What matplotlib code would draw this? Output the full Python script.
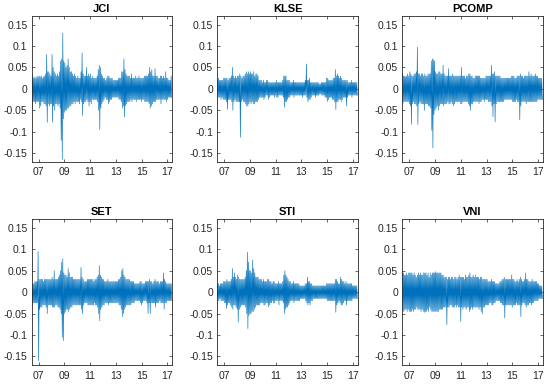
import numpy as np
import matplotlib
matplotlib.use("Agg")
import matplotlib.pyplot as plt
from matplotlib.ticker import FixedLocator, FixedFormatter

# monthly extremes of daily returns (in percent)
# months run from Jun 2006 to Apr 2017
START = 2006.46

jci_hi = [4.0, 3.0, 2.5, 2.8, 2.5, 3.0, 2.8,
          3.0, 2.8, 3.0, 2.5, 2.8, 3.0, 3.5, 8.0, 4.0, 4.0, 3.5, 3.0,
          8.0, 5.0, 4.0, 3.5, 3.0, 3.5, 3.0, 4.0, 6.5, 7.0, 13.0, 6.5,
          6.0, 5.0, 5.5, 7.0, 5.0, 4.0, 4.0, 3.5, 3.0, 3.5, 3.0, 2.5,
          3.0, 2.5, 2.5, 4.0, 8.4, 3.5, 3.0, 3.0, 5.0, 3.0, 3.5, 3.0,
          3.5, 2.5, 3.0, 2.5, 2.5, 2.5, 3.0, 4.5, 5.5, 5.0, 3.5, 3.0,
          2.5, 2.5, 2.0, 2.5, 3.0, 3.0, 2.5, 2.5, 2.5, 2.0, 2.0, 2.0,
          2.0, 2.0, 2.5, 2.5, 2.5, 4.0, 4.0, 7.0, 4.5, 3.5, 3.0, 3.0,
          3.0, 2.5, 3.5, 2.5, 2.5, 2.5, 3.0, 2.5, 2.5, 3.0, 2.5, 2.5,
          2.5, 2.5, 3.0, 3.0, 3.0, 3.0, 3.5, 5.0, 4.0, 4.5, 3.0, 3.0,
          4.7, 3.0, 3.0, 2.5, 2.5, 3.0, 3.0, 2.5, 3.0, 2.5, 4.0, 2.5,
          2.5, 2.0, 2.0, 3.0]
jci_lo = [-4.5, -3.0, -3.0, -3.5, -3.0, -3.0, -3.0,
          -4.5, -4.0, -3.0, -3.0, -3.5, -3.5, -4.0, -7.8, -3.5, -4.0, -3.5, -3.5,
          -7.8, -4.0, -5.0, -3.5, -3.5, -4.0, -3.5, -4.5, -12.0, -16.5, -7.0, -5.5,
          -5.0, -5.0, -4.5, -4.5, -4.0, -4.0, -3.5, -3.5, -3.0, -3.5, -3.0, -3.0,
          -3.0, -3.5, -2.5, -3.0, -6.2, -3.5, -3.0, -3.0, -2.5, -3.0, -4.0, -3.0,
          -3.5, -2.5, -2.5, -2.5, -2.5, -2.5, -3.0, -5.0, -9.5, -4.5, -3.5, -3.0,
          -2.5, -2.0, -2.5, -2.5, -3.5, -3.0, -2.5, -2.5, -2.0, -2.0, -2.0, -2.0,
          -2.0, -2.0, -2.5, -2.5, -3.0, -4.5, -4.0, -6.6, -4.0, -3.5, -3.0, -3.0,
          -3.0, -2.5, -3.0, -2.5, -2.5, -2.5, -3.0, -2.5, -2.5, -2.5, -2.5, -3.0,
          -2.5, -2.5, -3.0, -3.0, -3.0, -3.0, -3.5, -4.5, -4.0, -3.5, -3.0, -3.0,
          -3.0, -2.5, -2.5, -2.5, -2.5, -3.5, -2.5, -2.5, -2.5, -2.5, -3.0, -2.5,
          -2.0, -2.0, -2.0, -2.0]

klse_hi = [2.0, 2.5, 2.0, 2.0, 2.0, 2.0, 2.5,
           2.5, 2.5, 2.5, 2.0, 2.5, 2.5, 3.0, 5.0, 3.0, 2.5, 3.0, 2.5,
           3.0, 3.0, 3.5, 3.0, 2.5, 3.0, 3.0, 3.5, 4.0, 3.5, 4.0, 3.5,
           4.0, 3.5, 3.5, 4.0, 3.0, 3.5, 3.5, 3.0, 2.0, 2.0, 2.0, 1.5,
           2.0, 1.5, 1.5, 2.0, 2.0, 1.5, 1.5, 1.5, 1.5, 1.5, 1.5, 1.5,
           2.0, 1.5, 1.5, 1.5, 1.5, 1.5, 2.0, 3.0, 3.0, 3.0, 2.0, 2.0,
           2.0, 1.5, 1.5, 1.5, 2.0, 1.5, 1.5, 1.5, 1.5, 1.5, 1.5, 1.5,
           1.5, 1.5, 1.5, 2.0, 5.8, 2.0, 2.0, 2.5, 1.5, 1.5, 1.5, 1.5,
           1.5, 1.5, 1.5, 1.5, 1.2, 1.2, 1.5, 1.5, 1.5, 1.5, 1.5, 2.5,
           2.5, 2.0, 2.0, 2.0, 2.0, 2.5, 2.5, 4.5, 3.0, 3.5, 3.0, 2.5,
           3.0, 2.5, 2.0, 2.0, 2.0, 2.0, 2.0, 1.5, 1.5, 1.5, 2.0, 1.5,
           1.5, 1.5, 1.5, 1.5]
klse_lo = [-2.0, -2.0, -2.0, -2.5, -2.0, -2.5, -2.5,
           -2.5, -3.0, -4.8, -2.5, -2.5, -2.5, -3.0, -5.0, -3.0, -2.5, -3.0, -3.0,
           -3.0, -3.0, -11.3, -3.0, -2.5, -3.0, -3.0, -3.5, -4.0, -4.0, -3.5, -3.0,
           -3.5, -3.0, -3.5, -3.5, -3.0, -3.0, -3.0, -2.5, -2.0, -2.0, -2.0, -2.0,
           -2.5, -2.0, -1.5, -1.5, -2.5, -2.0, -1.5, -1.5, -1.5, -1.5, -2.0, -1.5,
           -2.0, -2.0, -1.5, -1.5, -1.5, -1.5, -2.0, -4.3, -3.0, -3.0, -2.5, -2.0,
           -2.0, -1.5, -1.5, -1.5, -2.0, -1.5, -1.5, -1.5, -1.5, -1.5, -1.5, -1.5,
           -2.0, -1.5, -1.5, -1.5, -2.0, -3.0, -2.5, -2.5, -2.0, -1.5, -1.5, -1.5,
           -2.0, -1.5, -1.5, -1.5, -1.2, -1.2, -1.5, -1.5, -1.5, -2.0, -2.0, -3.0,
           -2.5, -2.0, -2.0, -2.0, -2.5, -2.5, -3.0, -4.8, -3.0, -3.0, -2.5, -2.5,
           -3.0, -2.5, -2.0, -2.0, -2.0, -4.0, -2.0, -1.5, -1.5, -1.5, -2.0, -1.5,
           -1.5, -1.5, -1.5, -1.5]

pcomp_hi = [3.7, 3.0, 3.0, 2.8, 3.0, 3.5, 3.0,
            4.0, 3.5, 3.0, 3.0, 3.5, 3.5, 4.0, 9.7, 3.5, 3.5, 3.0, 3.5,
            3.5, 3.0, 3.5, 3.0, 3.0, 3.5, 3.5, 3.5, 6.5, 7.0, 6.8, 6.5,
            4.0, 3.5, 3.5, 4.0, 4.0, 3.5, 3.5, 5.5, 3.5, 3.0, 3.0, 3.0,
            4.7, 3.0, 3.0, 3.0, 3.5, 3.0, 3.0, 3.0, 3.0, 3.0, 3.0, 3.0,
            5.0, 3.0, 3.0, 3.0, 2.5, 3.0, 3.0, 3.5, 3.5, 3.0, 3.0, 2.5,
            2.5, 3.0, 3.0, 3.0, 3.0, 3.0, 2.5, 2.5, 2.5, 2.5, 2.5, 3.0,
            3.0, 3.0, 3.0, 3.0, 5.5, 3.5, 3.5, 4.0, 3.0, 3.0, 3.0, 3.0,
            3.0, 2.5, 2.5, 2.5, 2.5, 2.5, 2.5, 2.5, 2.5, 2.5, 2.5, 3.0,
            3.0, 3.0, 2.5, 2.5, 3.0, 3.0, 3.0, 3.5, 3.0, 3.0, 2.5, 3.0,
            3.0, 3.0, 3.0, 4.0, 3.0, 3.5, 3.0, 3.0, 3.0, 3.5, 3.0, 3.0,
            2.5, 2.5, 2.5, 2.5]
pcomp_lo = [-3.5, -3.0, -3.0, -3.0, -3.0, -3.0, -3.5,
            -4.0, -8.3, -3.5, -3.0, -3.5, -3.5, -4.0, -8.3, -3.5, -3.0, -3.5, -3.5,
            -3.5, -5.0, -3.5, -3.5, -3.5, -4.0, -4.0, -4.5, -9.7, -13.8, -6.0, -5.0,
            -4.5, -4.0, -5.0, -4.0, -3.5, -3.5, -3.5, -4.0, -3.5, -3.5, -3.5, -3.0,
            -3.5, -3.5, -3.0, -3.5, -4.0, -3.5, -3.0, -3.0, -3.0, -3.0, -3.0, -3.5,
            -3.5, -3.0, -3.0, -3.0, -3.0, -3.0, -3.5, -4.0, -5.0, -3.5, -3.5, -3.0,
            -3.0, -3.0, -3.0, -3.0, -3.5, -3.0, -3.0, -2.5, -2.5, -3.0, -2.5, -2.5,
            -2.5, -3.0, -3.0, -3.0, -4.0, -6.5, -3.5, -7.7, -3.5, -3.0, -3.0, -3.0,
            -3.0, -3.0, -3.0, -3.0, -2.5, -2.5, -2.5, -2.5, -2.5, -2.5, -2.5, -3.0,
            -3.0, -3.0, -3.0, -2.5, -3.0, -3.0, -7.2, -4.0, -3.0, -3.0, -3.0, -3.0,
            -3.5, -3.0, -3.0, -3.0, -3.0, -3.0, -3.0, -3.0, -3.0, -3.0, -3.0, -2.5,
            -2.5, -2.5, -2.5, -2.5]

set_hi = [2.5, 2.0, 2.0, 2.5, 2.5, 2.5, 9.5,
          3.0, 3.0, 3.0, 3.0, 2.5, 3.0, 3.0, 3.0, 3.0, 3.0, 3.0, 3.0,
          3.5, 3.0, 5.0, 3.0, 3.0, 3.0, 3.5, 4.0, 5.0, 7.0, 7.8, 4.5,
          4.0, 4.0, 3.5, 5.5, 4.5, 3.5, 3.5, 3.5, 3.0, 3.0, 3.0, 3.0,
          3.0, 3.0, 3.0, 5.8, 3.5, 3.0, 2.5, 2.5, 2.5, 3.0, 3.0, 3.0,
          3.0, 3.0, 3.0, 2.5, 3.0, 3.0, 3.5, 4.0, 6.2, 4.0, 3.5, 3.0,
          3.0, 2.5, 2.5, 2.5, 3.0, 2.5, 2.5, 2.5, 2.5, 2.5, 2.5, 2.5,
          2.5, 2.5, 3.0, 3.0, 3.5, 5.0, 5.5, 4.0, 3.5, 3.0, 3.0, 3.0,
          3.0, 2.5, 2.5, 2.5, 2.5, 2.0, 2.0, 2.0, 2.0, 2.0, 2.5, 2.5,
          2.0, 2.0, 2.0, 2.5, 2.5, 2.5, 2.5, 3.0, 2.5, 2.5, 2.0, 2.5,
          3.0, 2.5, 2.5, 2.5, 2.0, 2.5, 2.5, 2.5, 4.5, 3.0, 2.5, 2.0,
          2.0, 2.0, 2.0, 2.0]
set_lo = [-3.0, -2.5, -2.5, -2.5, -2.5, -2.5, -16.0,
          -4.0, -3.5, -3.5, -3.0, -3.0, -3.0, -3.5, -5.0, -3.0, -3.0, -3.0, -3.0,
          -3.5, -3.5, -3.5, -3.0, -3.0, -3.5, -3.5, -4.0, -5.0, -10.5, -11.3, -5.0,
          -4.5, -4.0, -4.0, -4.5, -4.0, -3.5, -3.5, -3.0, -3.0, -3.0, -3.0, -3.0,
          -3.0, -3.0, -3.0, -4.0, -5.0, -3.0, -2.5, -2.5, -2.5, -3.0, -3.0, -3.0,
          -3.0, -3.0, -3.0, -2.5, -3.0, -3.0, -3.5, -5.0, -6.7, -4.0, -3.5, -3.0,
          -3.0, -2.5, -2.5, -2.5, -3.0, -2.5, -2.5, -2.5, -2.5, -2.5, -2.5, -2.5,
          -2.5, -2.5, -3.0, -3.0, -4.0, -5.7, -5.0, -4.0, -3.5, -3.0, -3.0, -3.0,
          -3.0, -3.0, -2.5, -2.5, -2.5, -2.0, -2.0, -2.0, -2.0, -2.0, -2.5, -3.0,
          -2.5, -2.0, -2.0, -2.0, -2.5, -5.0, -2.5, -5.0, -2.5, -2.5, -2.5, -2.5,
          -3.5, -2.5, -2.5, -2.5, -2.0, -2.5, -2.5, -2.5, -4.0, -2.5, -2.5, -2.0,
          -2.0, -2.0, -2.0, -2.0]

sti_hi = [2.0, 2.0, 1.5, 2.0, 2.0, 2.0, 2.5,
          2.5, 2.5, 3.0, 2.5, 2.5, 2.5, 3.0, 5.5, 3.5, 4.5, 3.5, 3.0,
          4.0, 3.5, 3.0, 3.0, 3.0, 3.0, 3.0, 3.5, 5.0, 9.3, 7.0, 5.0,
          5.0, 4.5, 7.5, 5.5, 4.5, 3.5, 3.5, 3.5, 3.0, 3.0, 3.0, 2.5,
          3.0, 2.5, 2.5, 2.5, 3.0, 3.0, 2.5, 2.5, 2.0, 2.5, 2.5, 2.0,
          2.0, 2.0, 2.5, 2.0, 2.0, 2.0, 2.5, 4.0, 5.0, 4.0, 3.5, 3.0,
          2.5, 2.5, 2.0, 2.0, 2.5, 2.0, 2.0, 2.0, 2.0, 2.0, 1.5, 1.5,
          1.5, 1.5, 1.5, 2.0, 2.0, 3.5, 2.5, 2.5, 2.0, 2.0, 1.5, 1.5,
          1.5, 1.5, 1.5, 1.5, 1.5, 1.5, 1.5, 1.5, 1.5, 1.5, 1.5, 2.0,
          2.0, 2.0, 2.0, 2.0, 2.0, 2.0, 2.0, 3.0, 3.0, 2.5, 2.0, 2.0,
          3.5, 3.0, 2.5, 2.5, 2.0, 2.5, 2.0, 2.0, 2.0, 2.0, 2.0, 1.5,
          1.5, 1.5, 1.5, 1.5]
sti_lo = [-2.0, -2.0, -1.5, -2.0, -2.0, -2.0, -2.5,
          -2.5, -3.8, -3.0, -2.5, -2.5, -3.0, -3.5, -4.0, -3.0, -3.0, -3.5, -4.0,
          -7.0, -4.0, -3.5, -3.0, -3.0, -3.0, -3.0, -3.5, -5.0, -8.5, -5.5, -5.0,
          -5.0, -4.5, -4.5, -4.0, -3.5, -3.0, -3.0, -3.0, -3.0, -2.5, -2.5, -2.5,
          -3.0, -3.0, -2.5, -2.5, -3.5, -3.0, -2.5, -2.5, -2.0, -2.5, -2.5, -2.0,
          -2.0, -2.0, -3.0, -2.0, -2.0, -2.0, -2.5, -5.0, -4.0, -3.5, -3.5, -3.0,
          -2.5, -2.0, -2.0, -2.0, -2.5, -2.0, -2.0, -2.0, -2.0, -2.0, -1.5, -1.5,
          -1.5, -1.5, -1.5, -2.0, -2.5, -3.0, -2.5, -3.0, -2.0, -2.0, -1.5, -1.5,
          -1.5, -1.5, -1.5, -1.5, -1.5, -1.5, -1.5, -1.5, -1.5, -1.5, -1.5, -2.0,
          -2.0, -2.0, -2.0, -2.0, -2.0, -2.0, -2.0, -4.7, -3.0, -2.5, -2.0, -2.5,
          -3.0, -3.0, -2.5, -2.0, -2.0, -3.0, -2.0, -2.0, -2.0, -2.0, -2.0, -1.5,
          -1.5, -1.5, -1.5, -1.5]

vni_hi = [4.5, 4.5, 4.0, 4.0, 4.5, 4.0, 4.5,
          4.5, 4.5, 4.5, 4.0, 4.5, 4.0, 3.5, 4.0, 4.5, 4.0, 4.5, 4.0,
          4.0, 4.5, 4.5, 4.5, 4.0, 4.5, 3.5, 4.5, 4.0, 4.5, 4.5, 4.5,
          4.8, 4.5, 4.5, 4.5, 4.5, 4.5, 4.0, 4.0, 3.5, 3.5, 3.5, 3.0,
          3.5, 3.5, 3.0, 3.5, 3.5, 3.0, 3.5, 3.5, 3.0, 3.5, 4.0, 3.5,
          3.5, 3.5, 3.5, 3.0, 4.0, 3.5, 3.5, 4.0, 4.5, 3.5, 3.5, 4.0,
          3.5, 4.0, 3.5, 3.5, 3.5, 3.0, 3.5, 3.5, 3.0, 3.0, 3.0, 3.0,
          3.0, 2.5, 2.5, 2.5, 3.0, 2.5, 2.5, 2.5, 2.0, 2.0, 2.0, 2.0,
          2.5, 2.5, 3.0, 3.0, 3.5, 3.0, 3.0, 3.0, 3.0, 3.0, 3.0, 4.0,
          3.0, 3.0, 2.5, 2.5, 3.0, 2.5, 3.0, 3.5, 3.0, 2.5, 2.5, 3.0,
          4.5, 3.0, 3.0, 2.5, 2.5, 2.5, 3.0, 2.5, 2.5, 2.5, 2.5, 2.0,
          2.0, 1.5, 1.5, 1.5]
vni_lo = [-4.5, -4.5, -4.0, -4.0, -4.5, -4.0, -4.5,
          -4.5, -4.5, -4.0, -4.5, -4.0, -4.0, -3.5, -4.0, -4.0, -4.0, -4.5, -4.0,
          -4.5, -4.7, -4.5, -4.5, -4.0, -4.5, -3.5, -4.0, -4.5, -4.5, -4.5, -4.5,
          -4.5, -4.5, -4.5, -4.0, -4.0, -4.0, -4.0, -3.5, -3.5, -3.5, -7.6, -3.5,
          -3.5, -3.0, -3.0, -3.5, -3.5, -3.5, -3.0, -3.5, -3.0, -3.5, -3.5, -6.8,
          -3.5, -4.0, -3.5, -3.5, -4.0, -3.5, -3.5, -4.5, -4.0, -3.5, -4.0, -3.5,
          -3.5, -3.5, -3.5, -3.5, -4.0, -3.5, -4.5, -5.0, -3.5, -3.5, -3.0, -3.0,
          -3.0, -3.0, -2.5, -2.5, -3.0, -3.0, -2.5, -2.5, -2.0, -2.0, -2.0, -2.0,
          -2.5, -2.5, -3.0, -3.0, -6.0, -3.0, -3.0, -3.0, -3.0, -3.0, -3.0, -3.5,
          -3.0, -3.0, -3.0, -2.5, -3.0, -3.0, -3.0, -5.7, -3.0, -2.5, -2.5, -3.0,
          -3.5, -3.0, -3.0, -2.5, -2.5, -3.0, -2.5, -2.5, -2.0, -2.0, -2.0, -2.0,
          -1.5, -1.5, -1.5, -1.5]

titles = ["JCI", "KLSE", "PCOMP", "SET", "STI", "VNI"]
highs = [jci_hi, klse_hi, pcomp_hi, set_hi, sti_hi, vni_hi]
lows = [jci_lo, klse_lo, pcomp_lo, set_lo, sti_lo, vni_lo]

xtick_years = [2007, 2009, 2011, 2013, 2015, 2017]
xtick_labels = ["07", "09", "11", "13", "15", "17"]
ytick_vals = [-0.15, -0.1, -0.05, 0, 0.05, 0.1, 0.15]
ytick_labels = ["-0.15", "-0.1", "-0.05", "0", "0.05", "0.1", "0.15"]

plt.rcParams['font.family'] = ['Liberation Sans', 'DejaVu Sans']
dark = '#262626'
blue = '#0072BD'

fig = plt.figure(figsize=(5.5, 3.87), dpi=100)
lefts = [0.0576, 0.3951, 0.7315]
bottoms = [0.5822, 0.0568]
w, h = 0.2555, 0.3765

for k, name in enumerate(titles):
    ax = fig.add_axes([lefts[k % 3], bottoms[k // 3], w, h])
    hi = np.array(highs[k]) / 100.0
    lo = np.array(lows[k]) / 100.0
    t = START + np.arange(len(hi)) / 12.0
    x = np.empty(2 * len(hi))
    y = np.empty(2 * len(hi))
    x[0::2] = t
    x[1::2] = t + 1 / 24.0
    y[0::2] = hi
    y[1::2] = lo
    ax.plot(x, y, color=blue, lw=0.45)
    ax.set_xlim(START, START + len(hi) / 12.0)
    ax.set_ylim(-0.17, 0.17)
    ax.xaxis.set_major_locator(FixedLocator(xtick_years))
    ax.xaxis.set_major_formatter(FixedFormatter(xtick_labels))
    ax.yaxis.set_major_locator(FixedLocator(ytick_vals))
    ax.yaxis.set_major_formatter(FixedFormatter(ytick_labels))
    ax.tick_params(direction='in', length=2, width=0.5, colors=dark,
                   labelsize=7.5, top=True, right=True, pad=3)
    ax.tick_params(axis='x', pad=4)
    for s in ax.spines.values():
        s.set_linewidth(0.6)
        s.set_color(dark)
    ax.set_title(name, fontsize=8, fontweight='bold', color='black', pad=3)

fig.savefig('out.png', dpi=100)
